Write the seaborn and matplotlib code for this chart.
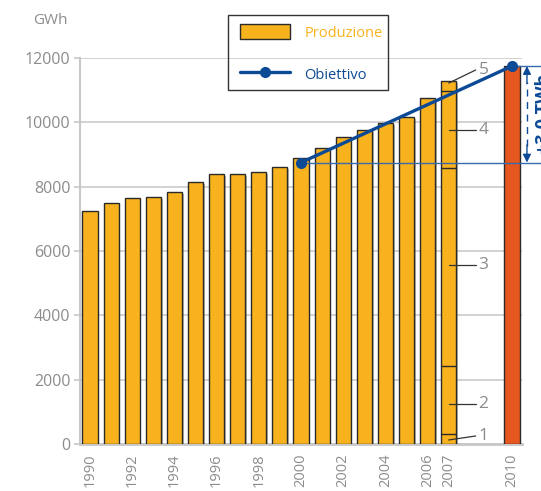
import matplotlib
matplotlib.use("Agg")
import matplotlib.pyplot as plt
import matplotlib.patheffects as pe
from matplotlib.patches import Patch, Rectangle
from matplotlib.lines import Line2D
import pandas as pd
import seaborn as sns

# Electricity production (GWh)
years = list(range(1990, 2008)) + [2010]
production = [7240, 7490, 7650, 7680, 7830, 8140, 8390, 8390, 8450, 8610,
              8890, 9200, 9540, 9760, 9980, 10160, 10750, 11280, 11750]
kind = ["Produzione"] * 18 + ["Obiettivo"]

# Target line
target_years = [2000, 2010]
target_values = [8750, 11750]
target_label = "+3,0 TWh"

# Breakdown of the 2007 bar
segment_bounds = [0, 310, 2425, 8580, 10970, 11280]
segment_names = ["1", "2", "3", "4", "5"]

xtick_years = [1990, 1992, 1994, 1996, 1998, 2000, 2002, 2004, 2006, 2007, 2010]
ytick_values = [0, 2000, 4000, 6000, 8000, 10000, 12000]

ORANGE = "#F8B21E"
RED = "#E6561F"
BLUE = "#0D4A96"
GRAY_TXT = "#8c8c8c"
GRID = "#d2d2d2"

sns.set_theme(style="white")
plt.rcParams["font.family"] = ["Open Sans", "DejaVu Sans"]

df = pd.DataFrame({"year": years, "value": production, "kind": kind})

fig = plt.figure(figsize=(5.41, 4.91), dpi=100)
W, H = 541, 491
ax = fig.add_axes([80 / W, 47 / H, (522 - 80) / W, (444 - 58) / H])

sns.barplot(data=df, x="year", y="value", hue="kind", native_scale=True,
            palette={"Produzione": ORANGE, "Obiettivo": RED}, dodge=False,
            saturation=1, width=0.72, edgecolor="#2a2a2a", linewidth=1.0,
            legend=False, ax=ax, zorder=3)
for p in ax.patches:
    p.set_path_effects([pe.SimplePatchShadow(offset=(1.2, -1.2), alpha=0.35),
                        pe.Normal()])

ax.set_xlim(1989.525, 2010.475)
ax.set_ylim(0, 12000)
ax.set_xticks(xtick_years)
ax.set_xticklabels([str(y) for y in xtick_years], rotation=90, color=GRAY_TXT,
                   fontsize=10.5)
ax.set_yticks(ytick_values)
ax.set_yticklabels([str(v) for v in ytick_values], color=GRAY_TXT, fontsize=11.5)
ax.tick_params(axis="y", length=4, width=1.2, color="#c8c8c8", pad=3, left=True)
ax.tick_params(axis="x", length=0, pad=7)
ax.set_xlabel("")
ax.set_ylabel("")
ax.yaxis.grid(True, color=GRID, linewidth=1.4)
ax.xaxis.grid(False)
ax.set_axisbelow(True)
for s in ["top", "right"]:
    ax.spines[s].set_visible(False)
ax.spines["left"].set_color("#c8c8c8")
ax.spines["left"].set_linewidth(1.5)
ax.spines["bottom"].set_color("#c8c8c8")
ax.spines["bottom"].set_linewidth(2.0)

# Segment dividers and callouts on the 2007 bar
bar_half = 0.36
for b in segment_bounds[1:-1]:
    ax.plot([2007 - bar_half, 2007 + bar_half], [b, b], color="#2a2a2a",
            lw=1.0, zorder=4)
label_pos = [(2007, 125, 436), (2007, None, 404), (2007, None, 265),
             (2007, None, 130), (2007, 11220, 70)]
px_per_unit = (444 - 58) / 12000
for name, (x0, ystart, ypix) in zip(segment_names, label_pos):
    ylab = (444 - ypix) / px_per_unit
    y0 = ylab if ystart is None else ystart
    ax.plot([x0, 2008.28], [y0, ylab], color="#333333", lw=0.9, zorder=5,
            clip_on=False)
    ax.text(2008.65, ylab, name, color=GRAY_TXT, fontsize=12.5, ha="center",
            va="center", zorder=5)

# Target line and reference levels
x_edge = 2011.5
ax.plot([target_years[0], x_edge], [target_values[0]] * 2, color="#3a6aaa",
        lw=1.0, zorder=4, clip_on=False)
ax.plot([target_years[1], x_edge], [target_values[1]] * 2, color="#3a6aaa",
        lw=1.0, zorder=4, clip_on=False)
sns.lineplot(x=target_years, y=target_values, color=BLUE, lw=2.4, marker="o",
             markersize=8, markeredgewidth=0, ax=ax, zorder=6, clip_on=False)

# Difference arrow
xa = 2010.71
ax.plot([xa, xa], [target_values[0] + 500, target_values[1] - 500], color=BLUE,
        lw=1.0, linestyle=(0, (5, 4)), zorder=5, clip_on=False)
for yend, ystart in [(target_values[1], target_values[1] - 550),
                     (target_values[0], target_values[0] + 550)]:
    ax.annotate("", xy=(xa, yend), xytext=(xa, ystart),
                arrowprops=dict(arrowstyle="-|>", color=BLUE, lw=1.0,
                                mutation_scale=12, shrinkA=0, shrinkB=0),
                annotation_clip=False)
ax.text(2011.08, sum(target_values) / 2, target_label, rotation=90,
        color=BLUE, fontsize=13, fontweight="bold", ha="left", va="center",
        clip_on=False)

fig.text(50 / W, 1 - 20 / H, "GWh", color=GRAY_TXT, fontsize=11,
         ha="center", va="center")

# Legend: frame drawn separately, entries placed inside it
fig.patches.append(Rectangle((228 / W, 1 - 90 / H), 160 / W, 75 / H,
                             transform=fig.transFigure, fill=False,
                             edgecolor="#333333", linewidth=1.0, zorder=10))
handles = [Patch(facecolor=ORANGE, edgecolor="#2a2a2a", linewidth=1.0),
           Line2D([0], [0], color=BLUE, lw=2.4, marker="o", markersize=7,
                  markevery=[0, -1])]
leg = fig.legend(handles, ["Produzione", "Obiettivo"], loc="upper left",
                 bbox_to_anchor=(240 / W, 1 - 24 / H), fontsize=10.5,
                 frameon=False, handlelength=3.42, handleheight=1.25,
                 handletextpad=1.0, borderpad=0, labelspacing=1.75,
                 borderaxespad=0)
for t, c in zip(leg.get_texts(), [ORANGE, BLUE]):
    t.set_color(c)

fig.savefig("out.png", dpi=100)
